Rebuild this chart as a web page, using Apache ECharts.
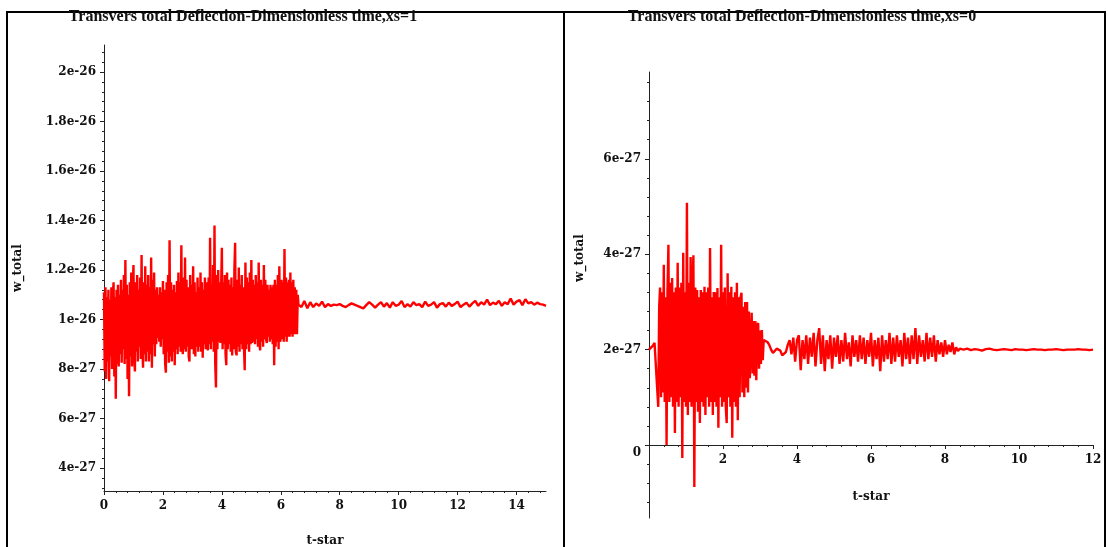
<!DOCTYPE html>
<html>
<head>
<meta charset="utf-8">
<script src="https://cdn.jsdelivr.net/npm/echarts@6/dist/echarts.min.js"></script>
<style>
  html, body { margin: 0; padding: 0; background: #fff; }
  #chart { width: 1108px; height: 547px; }
</style>
</head>
<body>
<div id="chart"></div>
<script>
// Deflection values are stored in units of 1e-27.
// Each segment is sampled on a uniform t-star grid (start, step).

// xs = 1 : transient burst, 0 <= t <= 6.6
const leftBurstStart = 0, leftBurstStep = 0.025;
const leftBurst = [
  11.1, 7.9, 11.3, 7.6, 10.9, 8.3, 11.2, 7.5, 10.8, 8.5,
  11.3, 8.0, 11.0, 11.5, 7.7, 10.9, 6.8, 11.2, 8.2, 11.4,
  8.1, 11.0, 8.6, 11.6, 8.25, 11.2, 8.8, 11.8, 8.2, 12.4,
  8.4, 11.4, 7.6, 11.0, 6.9, 11.5, 8.5, 11.9, 8.1, 11.3,
  12.2, 8.4, 7.9, 11.5, 8.7, 11.8, 8.3, 11.2, 8.9, 11.7,
  8.4, 12.6, 8.9, 8.05, 11.5, 8.6, 12.15, 8.3, 11.4, 8.7,
  11.8, 8.3, 11.3, 8.6, 12.5, 8.05, 11.6, 9.0, 11.9, 8.5,
  11.2, 9.0, 11.3, 9.25, 11.0, 9.1, 11.3, 8.9, 11.1, 9.2,
  11.55, 8.6, 11.2, 8.2, 7.85, 11.5, 8.7, 11.8, 8.25, 13.2,
  8.5, 11.5, 8.3, 11.2, 8.7, 11.4, 8.15, 11.1, 8.8, 11.55,
  8.6, 11.9, 8.9, 11.5, 8.7, 13.0, 9.0, 8.6, 11.7, 8.8,
  12.5, 8.7, 11.6, 8.9, 11.3, 8.5, 8.3, 11.8, 8.8, 11.4,
  8.8, 12.15, 8.6, 11.5, 8.5, 11.1, 8.9, 11.7, 8.7, 11.3,
  8.9, 11.9, 8.7, 11.5, 8.45, 11.2, 9.0, 11.7, 8.8, 11.5,
  9.0, 8.75, 11.7, 9.0, 13.3, 8.8, 11.4, 9.1, 12.2, 8.7,
  13.8, 8.2, 7.25, 11.8, 8.8, 12.0, 9.1, 11.5, 9.05, 11.3,
  12.9, 8.8, 11.5, 9.0, 11.8, 8.6, 8.15, 11.9, 8.8, 11.6,
  9.0, 11.4, 8.7, 11.7, 8.55, 11.3, 8.8, 12.0, 13.1, 8.7,
  8.55, 11.6, 8.9, 12.1, 8.7, 11.4, 9.0, 11.8, 8.8, 11.3,
  8.9, 7.95, 12.3, 8.8, 11.7, 9.0, 11.5, 8.7, 11.9, 9.0,
  12.4, 9.05, 11.6, 9.1, 11.4, 9.0, 11.8, 9.2, 11.5, 8.9,
  12.3, 9.0, 8.75, 11.6, 9.1, 11.4, 8.9, 12.2, 9.2, 11.6,
  9.2, 9.05, 11.4, 9.3, 11.2, 9.1, 11.4, 9.2, 11.3, 9.0,
  11.4, 8.15, 11.6, 8.9, 11.4, 9.1, 11.8, 8.8, 12.15, 9.1,
  9.25, 11.6, 9.2, 11.5, 9.1, 12.85, 9.3, 11.7, 9.1, 11.5,
  9.3, 11.6, 9.3, 11.9, 9.4, 11.5, 9.3, 11.6, 9.4, 11.3,
  9.4, 11.2, 9.4, 11.0, 10.6
];

// xs = 1 : settled response, 6.7 <= t <= 15
const leftTailStart = 6.7, leftTailStep = 0.1;
const leftTail = [
  10.5, 10.75, 10.45, 10.7, 10.5, 10.65, 10.55, 10.72, 10.5, 10.62,
  10.55, 10.6, 10.58, 10.62, 10.55, 10.5, 10.58, 10.65, 10.6, 10.55,
  10.5, 10.45, 10.58, 10.7, 10.6, 10.48, 10.6, 10.7, 10.52, 10.66,
  10.48, 10.7, 10.55, 10.6, 10.75, 10.5, 10.62, 10.52, 10.7, 10.58,
  10.62, 10.5, 10.72, 10.55, 10.6, 10.7, 10.48, 10.62, 10.66, 10.52,
  10.68, 10.55, 10.62, 10.72, 10.5, 10.6, 10.68, 10.52, 10.65, 10.75,
  10.55, 10.7, 10.6, 10.8, 10.58, 10.68, 10.62, 10.75, 10.55, 10.7,
  10.62, 10.85, 10.6, 10.72, 10.78, 10.58, 10.82, 10.65, 10.7, 10.6,
  10.68, 10.62, 10.6, 10.55
];

// xs = 0 : lead-in, burst, decaying noise and settled tail
const rightLeadStart = 0, rightLeadStep = 0.05;
const rightLead = [2.0, 2.02, 2.08, 2.14, 2.16];

const rightBurstStart = 0.25, rightBurstStep = 0.025;
const rightBurst = [
  0.8, 2.9, 3.3, 1.0, 3.2, 1.1, 3.78, 0.9, 3.1, 0.0,
  3.2, 4.2, 0.9, 3.4, 1.0, 3.5, 0.8, 3.2, 0.25, 3.3,
  0.9, 3.82, 0.8, 3.3, 1.0, 3.4, -0.27, 4.03, 0.9, 3.2,
  0.8, 5.08, 0.63, 3.4, 0.9, 3.94, 0.8, 3.3, 3.98, -0.88,
  3.3, 0.9, 3.25, 0.7, 3.1, 0.46, 3.25, 0.9, 3.2, 0.8,
  3.32, 0.63, 3.2, 1.0, 3.3, 0.8, 4.13, 0.9, 3.1, 0.63,
  3.21, 0.9, 3.2, 0.8, 3.29, 0.36, 3.1, 1.0, 4.2, 0.8,
  3.2, 0.9, 3.3, 0.8, 0.46, 3.6, 1.0, 3.2, 0.8, 3.32,
  0.15, 3.1, 0.9, 3.2, 0.8, 3.4, 0.52, 3.1, 1.0, 3.1,
  3.19, 1.1, 2.9, 1.0, 3.0, 1.2, 3.0, 1.1, 2.8, 1.4,
  1.4, 2.77, 1.5, 2.6, 1.45, 2.6, 1.36, 2.5, 2.56, 1.6,
  2.4, 1.7, 2.41, 1.78, 2.2
];

const rightNoiseStart = 3.15, rightNoiseStep = 0.05;
const rightNoise = [
  2.2, 2.16, 2.1, 2.0, 1.93, 1.95, 2.02, 2.06, 1.98, 1.88,
  1.85, 1.95, 2.1, 2.2, 1.9, 2.25, 1.75, 2.2, 2.3, 1.57,
  2.2, 1.8, 2.3, 1.7, 2.25, 1.85, 2.35, 1.65, 2.2, 2.45,
  1.7, 2.3, 1.55, 2.2, 1.8, 2.3, 1.6, 2.25, 1.85, 2.3,
  1.7, 2.2, 1.75, 2.35, 1.8, 2.15, 1.65, 2.3, 1.85, 2.2,
  1.75, 2.3, 1.8, 2.25, 1.7, 2.2, 1.85, 2.35, 1.65, 2.2,
  1.8, 2.25, 1.55, 2.3, 1.75, 2.2, 1.8, 2.35, 1.7, 2.25,
  1.75, 2.3, 1.85, 2.2, 1.65, 2.35, 1.8, 2.25, 1.7, 2.3,
  1.8, 2.45, 1.7, 2.3, 1.85, 2.2, 1.75, 2.35, 1.8, 2.25,
  1.85, 2.3, 1.75, 2.2, 1.9, 2.15, 1.85, 2.2, 1.9, 2.1,
  1.95, 2.15, 1.9, 2.05, 1.97, 2.02
];

const rightTailStart = 8.5, rightTailStep = 0.1;
const rightTail = [
  2.0, 2.02, 1.99, 2.01, 2.0, 1.98, 2.01, 2.02, 2.0, 1.99,
  2.0, 2.01, 2.0, 1.99, 2.01, 2.0, 2.0, 1.99, 2.0, 2.01,
  2.0, 2.0, 1.99, 2.0, 2.0, 2.01, 2.0, 1.99, 2.0, 2.0,
  2.0, 2.01, 2.0, 2.0, 1.99, 2.0
];

// Tick values
const leftXTicks = [0, 2, 4, 6, 8, 10, 12, 14];
const leftYTicks = [4, 6, 8, 10, 12, 14, 16, 18, 20];
const rightXTicks = [2, 4, 6, 8, 10, 12];
const rightYTicks = [0, 2, 4, 6];

const titles = [
  'Transvers total Deflection-Dimensionless time,xs=1',
  'Transvers total Deflection-Dimensionless time,xs=0'
];
const xName = 't-star';
const yName = 'w_total';

function segment(start, step, values) {
  return values.map((v, i) => [+(start + i * step).toFixed(4), v]);
}
function minorTicks(lo, hi, step) {
  const out = [];
  for (let k = Math.ceil(lo / step - 1e-9); k * step <= hi + 1e-9; k++) {
    out.push(+(k * step).toFixed(4));
  }
  return out;
}
function fmtE(v) {
  if (v === 0) return '{z|0}';
  if (Math.abs(v) >= 10) return +(v / 10).toFixed(3) + 'e-26';
  return +v.toFixed(3) + 'e-27';
}

const leftData = segment(leftBurstStart, leftBurstStep, leftBurst)
  .concat(segment(leftTailStart, leftTailStep, leftTail));
const rightData = segment(rightLeadStart, rightLeadStep, rightLead)
  .concat(segment(rightBurstStart, rightBurstStep, rightBurst))
  .concat(segment(rightNoiseStart, rightNoiseStep, rightNoise))
  .concat(segment(rightTailStart, rightTailStep, rightTail));

const AXIS = '#222';
const tickFont = { fontFamily: 'DejaVu Serif', fontWeight: 'bold', fontSize: 12, color: '#111' };
const nameFont = 'bold 12px "DejaVu Serif"';
const titleFont = 'bold 16px "Liberation Serif"';

const L = { xMin: 0, xMax: 15, yMin: 3.07, yMax: 21.09 };
const R = { xMin: 0, xMax: 12, yMin: -1.53, yMax: 7.82 };
const GRIDS = [
  { left: 104, top: 45, width: 442, height: 446 },
  { left: 649, top: 72, width: 444, height: 446 }
];
// The xs=0 horizontal axis sits at w = 0: shift it up from the grid bottom.
const rightZeroOffset = -GRIDS[1].height * (0 - R.yMin) / (R.yMax - R.yMin);

function majorX(grid, ext, ticks, offset) {
  return {
    type: 'value', gridIndex: grid, min: ext.xMin, max: ext.xMax, position: 'bottom', offset: offset,
    axisLine: { show: true, onZero: false, lineStyle: { color: AXIS, width: 1 } },
    axisTick: { show: true, customValues: ticks, length: 4, lineStyle: { color: AXIS } },
    axisLabel: Object.assign({ customValues: ticks, margin: 9, formatter: v => String(v) }, tickFont),
    splitLine: { show: false }
  };
}
function minorX(grid, ext, offset) {
  return {
    type: 'value', gridIndex: grid, min: ext.xMin, max: ext.xMax, position: 'bottom', offset: offset,
    axisLine: { show: false, onZero: false },
    axisTick: { show: true, customValues: minorTicks(ext.xMin, ext.xMax, 0.4), length: 2, lineStyle: { color: AXIS } },
    axisLabel: { show: false }, splitLine: { show: false }
  };
}
function majorY(grid, ext, ticks) {
  return {
    type: 'value', gridIndex: grid, min: ext.yMin, max: ext.yMax, position: 'left',
    axisLine: { show: true, onZero: false, lineStyle: { color: AXIS, width: 1 } },
    axisTick: { show: true, customValues: ticks, length: 4, lineStyle: { color: AXIS } },
    axisLabel: Object.assign({ customValues: ticks, margin: 8, formatter: fmtE,
      rich: { z: { fontFamily: 'DejaVu Serif', fontWeight: 'bold', fontSize: 12, color: '#111', padding: [16, 0, 0, 0] } } }, tickFont),
    splitLine: { show: false }
  };
}
function minorY(grid, ext) {
  return {
    type: 'value', gridIndex: grid, min: ext.yMin, max: ext.yMax, position: 'left',
    axisLine: { show: false, onZero: false },
    axisTick: { show: true, customValues: minorTicks(ext.yMin, ext.yMax, 0.4), length: 2, lineStyle: { color: AXIS } },
    axisLabel: { show: false }, splitLine: { show: false }
  };
}

function textEl(text, x, y, font, rot) {
  return {
    type: 'text', x: x, y: y, rotation: rot || 0, silent: true,
    style: { text: text, font: font, fill: '#111', align: 'center', verticalAlign: 'middle',
             textAlign: 'center', textVerticalAlign: 'middle' }
  };
}
function lineEl(x1, y1, x2, y2) {
  return { type: 'line', silent: true, shape: { x1, y1, x2, y2 }, style: { stroke: '#000', lineWidth: 2 } };
}

const chart = echarts.init(document.getElementById('chart'), null, { renderer: 'canvas' });
chart.setOption({
  animation: false,
  backgroundColor: '#fff',
  grid: GRIDS,
  xAxis: [
    majorX(0, L, leftXTicks, 0), minorX(0, L, 0),
    majorX(1, R, rightXTicks, rightZeroOffset), minorX(1, R, rightZeroOffset)
  ],
  yAxis: [
    majorY(0, L, leftYTicks), minorY(0, L),
    majorY(1, R, rightYTicks), minorY(1, R)
  ],
  series: [
    { type: 'line', xAxisIndex: 0, yAxisIndex: 0, data: leftData, showSymbol: false,
      lineStyle: { color: '#ff0000', width: 2.4 }, clip: false },
    { type: 'line', xAxisIndex: 2, yAxisIndex: 2, data: rightData, showSymbol: false,
      lineStyle: { color: '#ff0000', width: 2.4 }, clip: false }
  ],
  graphic: [
    lineEl(6, 12, 1106, 12),
    lineEl(7, 12, 7, 547),
    lineEl(564, 12, 564, 547),
    lineEl(1105, 12, 1105, 547),
    textEl(titles[0], 243, 17, titleFont),
    textEl(titles[1], 802, 17, titleFont),
    textEl(yName, 18, 268, nameFont, Math.PI / 2),
    textEl(yName, 580, 258, nameFont, Math.PI / 2),
    textEl(xName, 325, 541, nameFont),
    textEl(xName, 871, 497, nameFont)
  ]
});
</script>
</body>
</html>
